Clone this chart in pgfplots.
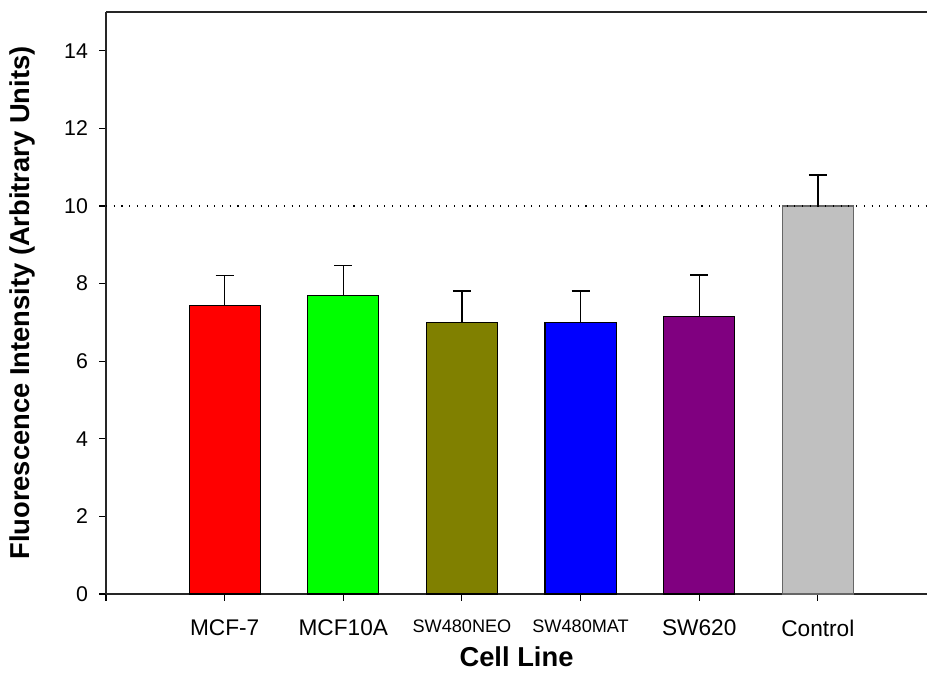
\documentclass[border=0pt]{standalone}
\usepackage{pgfplots}
\pgfplotsset{compat=1.18}
\usepackage{fontspec}
\setmainfont{Liberation Sans}
\definecolor{cRed}{RGB}{255,0,0}
\definecolor{cGreen}{RGB}{0,255,0}
\definecolor{cOlive}{RGB}{128,128,0}
\definecolor{cBlue}{RGB}{0,0,255}
\definecolor{cPurple}{RGB}{128,0,128}
\definecolor{cSilver}{RGB}{192,192,192}
\begin{document}
\begin{tikzpicture}
\path[use as bounding box] (-79.5pt,-66.75pt) rectangle (615.75pt,445.5pt);
\begin{axis}[
  at={(0,0)}, anchor=south west,
  scale only axis, width=615.75pt, height=436.5pt,
  xmin=0, xmax=6.92, ymin=0, ymax=15,
  axis lines=left,
  axis line style={-, line width=1pt, black!85},
  tick align=outside,
  major tick length=5pt,
  tick style={black, line width=0.8pt},
  ytick={0,2,...,14},
  xtick={0,1,2,3,4,5,6},
  xticklabels={{},MCF-7,MCF10A,{\fontsize{13.6}{14}\selectfont SW480NEO},{\fontsize{13.6}{14}\selectfont SW480MAT},SW620,Control},
  /pgf/number format/assume math mode=true,
  yticklabel style={font=\fontsize{16}{16}\selectfont, xshift=-5pt},
  xticklabel style={font=\fontsize{17}{17}\selectfont, yshift=-11pt},
  every axis y label/.style={at={(rel axis cs:0,0.5)}, xshift=-63pt, rotate=90, anchor=center, font=\fontsize{20.5}{21}\selectfont\bfseries},
  every axis x label/.style={at={(rel axis cs:0.5,0)}, yshift=-47.25pt, anchor=center, font=\fontsize{20.5}{21}\selectfont\bfseries},
  ylabel={Fluorescence Intensity (Arbitrary Units)},
  xlabel={Cell Line},
  clip=false,
  mybar/.style={ybar, bar width=0.6, bar shift=0pt, draw=black, line width=0.8pt,
    error bars/y dir=plus, error bars/y explicit,
    error bars/error mark=-,
    error bars/error bar style={line width=1pt, black},
    error bars/error mark options={rotate=90, mark size=6.75pt, line width=1pt, black}},
]
\addplot[mybar, fill=cRed] coordinates {(1,7.43) +- (0,0.78)};
\addplot[mybar, fill=cGreen] coordinates {(2,7.70) +- (0,0.76)};
\addplot[mybar, fill=cOlive] coordinates {(3,7.00) +- (0,0.81)};
\addplot[mybar, fill=cBlue] coordinates {(4,7.00) +- (0,0.81)};
\addplot[mybar, fill=cPurple] coordinates {(5,7.15) +- (0,1.07)};
\addplot[mybar, fill=cSilver, draw=black!60] coordinates {(6,10.00) +- (0,0.80)};
\addplot[black, line width=0.8pt, dash pattern=on 0.8pt off 5pt] coordinates {(0,10) (6.92,10)};
\end{axis}
\draw[line width=1pt, black!85] (0,436.5pt) -- (615.75pt,436.5pt);
\end{tikzpicture}
\end{document}
